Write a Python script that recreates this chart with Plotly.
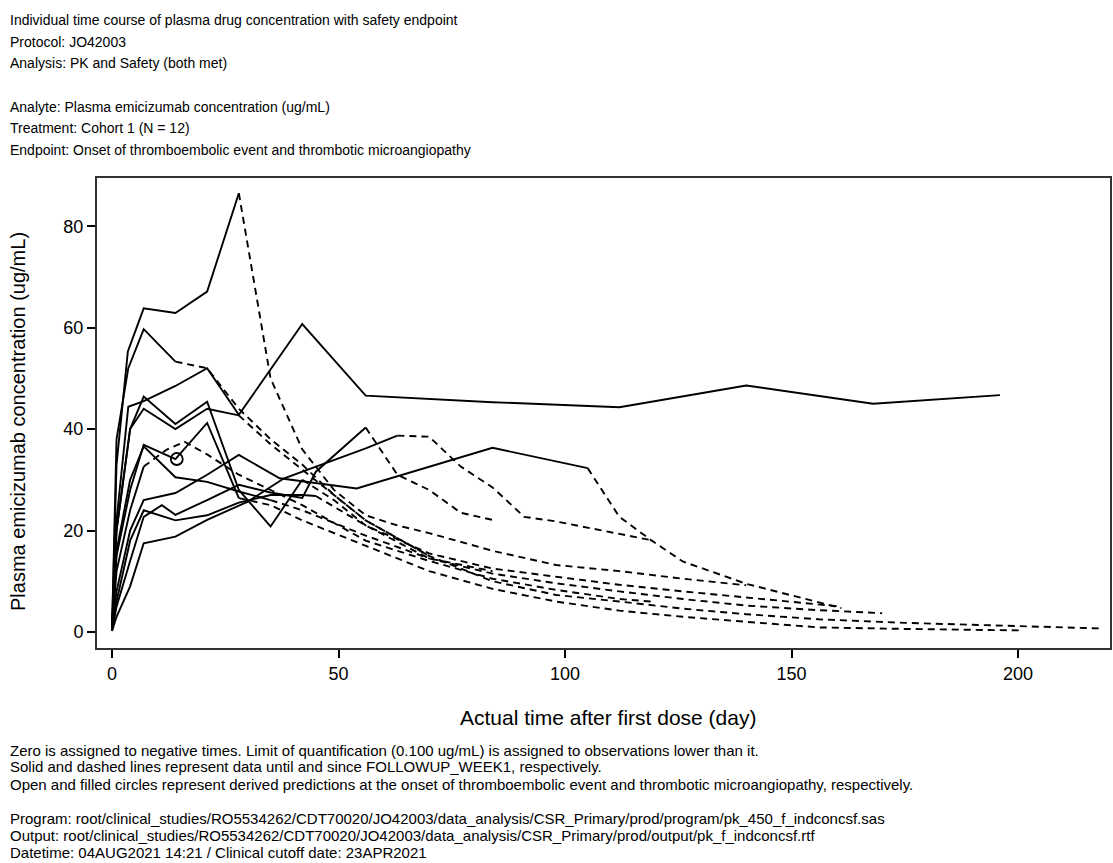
import plotly.graph_objects as go

# ---------------- data ----------------
S01_DAY = [0, 1, 3.5, 7, 14, 21, 28, 35, 42, 49, 56, 63, 70, 84, 98, 112, 126, 140]
S01_CONC = [0.5, 33, 55.3, 63.8, 62.9, 67.1, 86.5, 50, 36, 28, 23, 21, 19.5, 16, 13.2, 12, 10.5, 9.2]
S02_DAY = [0, 1, 3.6, 7, 14, 21, 28, 42, 56, 84, 112, 140, 168, 196]
S02_CONC = [0.3, 22, 44.4, 45.5, 48.5, 52, 42.8, 60.7, 46.6, 45.3, 44.3, 48.6, 45, 46.7]
S03_DAY = [0, 1, 3.6, 7, 14, 21, 28, 35, 42, 49, 56, 70, 84, 98, 112, 126, 140, 156, 175, 196, 218]
S03_CONC = [0.2, 38, 52, 59.7, 53.3, 52, 44, 38, 33, 27, 22, 15, 10, 7.3, 6, 4.6, 3.5, 2.5, 1.8, 1.2, 0.7]
S04_DAY = [0, 1, 4, 7, 14, 21, 28, 35, 42, 49, 56, 70, 84, 98, 112, 126, 140, 161]
S04_CONC = [0.3, 20, 40, 46.4, 41, 45.4, 28, 20.8, 30, 26, 21, 15.5, 12.5, 10.9, 9.3, 8, 6.8, 5.0]
S05_DAY = [0, 1, 4, 7, 14, 21, 28, 35, 42, 56, 70, 84, 98, 112, 126, 140, 156, 175, 201]
S05_CONC = [0.2, 15, 28, 36.9, 34.1, 41.2, 26.4, 25, 22, 17, 12, 8.5, 6.0, 4.2, 3.0, 2.0, 0.9, 0.6, 0.3]
S06_DAY = [0, 1, 4, 7, 14, 21, 28, 35, 42, 56, 70, 84, 98, 112, 126, 140, 156, 170]
S06_CONC = [0.3, 16, 30, 36.6, 30.5, 29.6, 27.7, 26, 24, 19, 14.5, 11.5, 9.6, 8, 6.5, 5.2, 4.3, 3.7]
S07_DAY = [0, 1, 4, 7, 14, 21, 28, 37, 54, 70, 84, 105, 112, 119, 126, 140, 161]
S07_CONC = [0.2, 8, 20, 26, 27.4, 31, 34.9, 30.3, 28.3, 32.6, 36.3, 32.3, 22.7, 18.1, 13.9, 9.5, 4.7]
S08_DAY = [0, 1, 4, 7, 11, 14, 21, 28, 35, 42, 45, 56, 63, 70, 77, 84]
S08_CONC = [0.3, 5, 14, 22.7, 25, 23.1, 26, 29, 27.5, 26.4, 31.6, 40.3, 31, 28, 23.5, 22.1]
S09_DAY = [0, 1, 4, 7, 14, 21, 30, 38, 56, 63, 70, 77, 84, 91, 98, 119]
S09_CONC = [0.2, 3, 9, 17.5, 18.8, 22.1, 25.7, 30.3, 36.2, 38.7, 38.5, 32.6, 28.5, 22.7, 21.8, 18.1]
S10_DAY = [0, 1, 4, 7, 12, 16, 21, 28, 35, 42, 56, 70, 84, 98, 112, 119]
S10_CONC = [0.3, 12, 24, 32.6, 35.9, 37.5, 35, 31, 28, 25, 18, 14, 10.5, 8.3, 6.5, 6]
S11_DAY = [0, 1, 4, 7, 14, 21, 28, 35, 42, 45, 56, 70, 84]
S11_CONC = [0.2, 6, 18, 24, 22, 23, 25.5, 27, 27, 26.8, 21, 14.5, 12]
S12_DAY = [0, 1, 4, 7, 14, 21, 28, 35, 42, 49, 56, 70]
S12_CONC = [0.3, 20, 40, 44, 40, 44, 42.7, 37, 32, 27, 22, 15]

# first day of FOLLOWUP_WEEK1 per subject (None = still on treatment)
FOLLOWUP_DAY = [28, None, 14, 42, 28, 35, 105, 56, 63, 7, 45, 28]

# open circle: thromboembolic event onset (derived prediction)
TE_DAY = [14.3]
TE_CONC = [34.1]

X_TICKS = [0, 50, 100, 150, 200]
Y_TICKS = [0, 20, 40, 60, 80]

SUBJECTS = [
    (S01_DAY, S01_CONC), (S02_DAY, S02_CONC), (S03_DAY, S03_CONC), (S04_DAY, S04_CONC),
    (S05_DAY, S05_CONC), (S06_DAY, S06_CONC), (S07_DAY, S07_CONC), (S08_DAY, S08_CONC),
    (S09_DAY, S09_CONC), (S10_DAY, S10_CONC), (S11_DAY, S11_CONC), (S12_DAY, S12_CONC),
]

FONT = "Liberation Sans, Arial, sans-serif"
W, H = 1113, 863
L, R, T, B = 97, 1110, 178, 648

fig = go.Figure()
for (days, conc), fu in zip(SUBJECTS, FOLLOWUP_DAY):
    if fu is None:
        solid_x, solid_y, dash_x, dash_y = days, conc, [], []
    else:
        k = days.index(fu)
        solid_x, solid_y = days[:k + 1], conc[:k + 1]
        dash_x, dash_y = days[k:], conc[k:]
    fig.add_trace(go.Scatter(x=solid_x, y=solid_y, mode="lines",
                             line=dict(color="black", width=1.9), showlegend=False,
                             hoverinfo="skip"))
    if dash_x:
        fig.add_trace(go.Scatter(x=dash_x, y=dash_y, mode="lines",
                                 line=dict(color="black", width=1.9, dash="7px,5px"),
                                 showlegend=False, hoverinfo="skip"))

fig.add_trace(go.Scatter(x=TE_DAY, y=TE_CONC, mode="markers",
                         marker=dict(symbol="circle-open", size=12, color="black",
                                     line=dict(width=1.8, color="black")),
                         showlegend=False, hoverinfo="skip"))

pw, ph = R - L, B - T
x0, x1 = -3.31, 220.3
y0, y1 = -3.16, 89.5

fig.update_layout(
    width=W, height=H,
    margin=dict(l=L, r=W - R, t=T, b=H - B, autoexpand=False),
    paper_bgcolor="white", plot_bgcolor="white",
    font=dict(family=FONT, color="black"),
    xaxis=dict(range=[x0, x1], tickvals=X_TICKS, ticks="outside", ticklen=8, tickwidth=1.5,
               tickcolor="black", showgrid=False, zeroline=False, showline=True,
               linecolor="#333", linewidth=2, mirror=True,
               tickfont=dict(size=18, family=FONT)),
    yaxis=dict(range=[y0, y1], tickvals=Y_TICKS, ticks="outside", ticklen=8, tickwidth=1.5,
               tickcolor="black", showgrid=False, zeroline=False, showline=True,
               linecolor="#333", linewidth=2, mirror=True,
               tickfont=dict(size=18, family=FONT)),
)


def px_x(p):
    return (p - L) / pw


def px_y(p):
    return (B - p) / ph


# axis titles
fig.add_annotation(text="Actual time after first dose (day)", xref="paper", yref="paper",
                   x=px_x(608), y=px_y(717), xanchor="center", yanchor="middle",
                   showarrow=False, font=dict(size=21, family=FONT, color="black"))
fig.add_annotation(text="Plasma emicizumab concentration (ug/mL)", xref="paper", yref="paper",
                   x=px_x(18), y=px_y(422), xanchor="center", yanchor="middle", textangle=-90,
                   showarrow=False, font=dict(size=20, family=FONT, color="black"))

header = [
    (20, "Individual time course of plasma drug concentration with safety endpoint"),
    (42, "Protocol: JO42003"),
    (63, "Analysis: PK and Safety (both met)"),
    (107, "Analyte: Plasma emicizumab concentration (ug/mL)"),
    (128, "Treatment: Cohort 1 (N = 12)"),
    (150, "Endpoint: Onset of thromboembolic event and thrombotic microangiopathy"),
]
for py, txt in header:
    fig.add_annotation(text=txt, xref="paper", yref="paper", x=px_x(8), y=px_y(py),
                       xanchor="left", yanchor="middle", showarrow=False,
                       font=dict(size=14, family=FONT, color="black"))

footer = [
    (750, "Zero is assigned to negative times. Limit of quantification (0.100 ug/mL) is assigned to observations lower than it."),
    (767, "Solid and dashed lines represent data until and since FOLLOWUP_WEEK1, respectively."),
    (784, "Open and filled circles represent derived predictions at the onset of thromboembolic event and thrombotic microangiopathy, respectively."),
    (818, "Program: root/clinical_studies/RO5534262/CDT70020/JO42003/data_analysis/CSR_Primary/prod/program/pk_450_f_indconcsf.sas"),
    (835, "Output: root/clinical_studies/RO5534262/CDT70020/JO42003/data_analysis/CSR_Primary/prod/output/pk_f_indconcsf.rtf"),
    (852, "Datetime: 04AUG2021 14:21 / Clinical cutoff date: 23APR2021"),
]
for py, txt in footer:
    fig.add_annotation(text=txt, xref="paper", yref="paper", x=px_x(8), y=px_y(py),
                       xanchor="left", yanchor="middle", showarrow=False,
                       font=dict(size=15, family=FONT, color="black"))

fig.write_html("out.html")
